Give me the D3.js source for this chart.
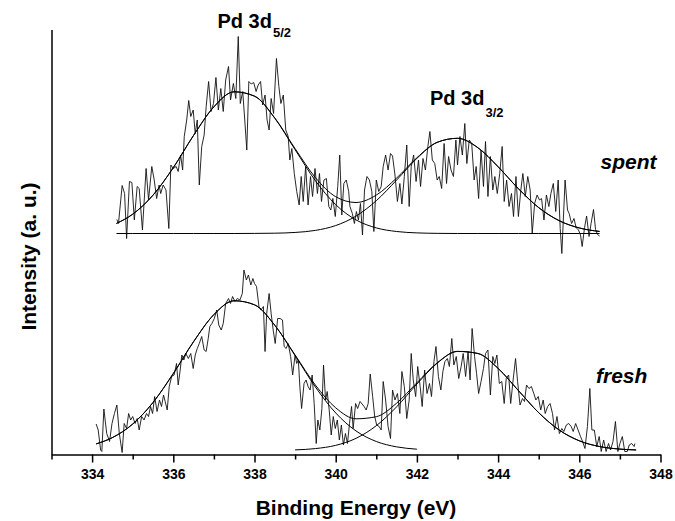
<!DOCTYPE html>
<html lang="en">
<head>
<meta charset="UTF-8">
<title>Pd 3d XPS spectra</title>
<script src="https://d3js.org/d3.v7.min.js"></script>
<style>
  body { margin: 0; background: #fff; }
  svg { display: block; font-family: Arial, "Liberation Sans", sans-serif; }
  .axis path, .axis line { stroke: #000; stroke-width: 1.5; }
  .axis text { font-size: 14px; font-weight: bold; fill: #000; }
  .trace { fill: none; stroke: #111; stroke-width: 0.9; }
  .fit { fill: none; stroke: #000; stroke-width: 1; }
  .lbl { font-weight: bold; fill: #000; }
</style>
</head>
<body>
<div id="chart"></div>
<script>
// axis ticks (eV)
const majorTicks = [334, 336, 338, 340, 342, 344, 346, 348];
const minorTicks = [333, 335, 337, 339, 341, 343, 345, 347];

// spent catalyst, raw spectrum [binding energy, intensity a.u.]
const spentSpectrum = [
  [334.61,470],[334.65,462],[334.74,538],[334.80,522],[334.85,432],[334.92,546],[334.98,544],[335.04,469],[335.11,536],[335.16,532],
  [335.24,449],[335.33,572],[335.39,509],[335.47,576],[335.53,549],[335.59,512],[335.65,539],[335.69,522],[335.75,539],[335.82,529],
  [335.89,452],[335.94,579],[336.00,572],[336.07,576],[336.12,566],[336.18,599],[336.23,569],[336.27,636],[336.33,669],[336.38,708],
  [336.43,676],[336.49,689],[336.54,642],[336.59,669],[336.64,539],[336.70,616],[336.76,639],[336.81,696],[336.87,746],[336.93,686],
  [336.99,702],[337.05,754],[337.11,689],[337.17,732],[337.23,686],[337.29,749],[337.36,776],[337.41,709],[337.48,742],[337.54,712],
  [337.60,836],[337.65,702],[337.71,726],[337.76,669],[337.81,609],[337.86,746],[337.92,741],[337.98,744],[338.04,726],[338.09,739],
  [338.15,746],[338.20,699],[338.26,719],[338.31,669],[338.36,649],[338.41,712],[338.47,682],[338.54,792],[338.60,736],[338.65,702],
  [338.71,719],[338.77,649],[338.83,636],[338.87,589],[338.92,612],[338.98,562],[339.04,526],[339.10,499],[339.15,556],[339.20,506],
  [339.26,576],[339.32,499],[339.38,556],[339.43,516],[339.49,572],[339.55,522],[339.60,562],[339.65,506],[339.71,549],[339.77,552],
  [339.83,496],[339.88,489],[339.93,512],[339.99,476],[340.05,536],[340.10,599],[340.15,479],[340.20,542],[340.26,549],[340.32,526],
  [340.35,496],
  [340.41,482],[340.46,462],[340.51,486],[340.56,469],[340.61,502],[340.66,439],[340.71,529],[340.77,556],[340.83,549],[340.89,526],
  [340.94,446],[341.00,549],[341.06,526],[341.12,536],[341.17,576],[341.23,599],[341.29,569],[341.35,602],[341.40,597],[341.46,559],
  [341.52,506],[341.58,542],[341.63,501],[341.69,556],[341.75,619],[341.81,496],[341.86,576],[341.92,599],[341.98,546],[342.04,589],
  [342.09,536],[342.15,592],[342.21,569],[342.27,616],[342.32,646],[342.38,589],[342.44,582],[342.50,549],[342.55,556],[342.61,532],
  [342.67,622],[342.73,542],[342.78,596],[342.84,569],[342.90,556],[342.96,629],[343.00,579],[343.06,636],[343.12,599],[343.18,662],
  [343.23,582],[343.29,629],[343.35,622],[343.41,549],[343.46,576],[343.52,512],[343.58,609],[343.64,536],[343.69,626],[343.75,516],
  [343.81,596],[343.87,529],[343.92,556],[343.98,522],[344.04,562],[344.10,616],[344.15,506],[344.21,549],[344.27,496],[344.33,522],
  [344.38,476],[344.44,556],[344.50,476],[344.56,529],[344.61,562],[344.67,516],[344.73,556],[344.79,529],[344.84,442],[344.90,502],
  [344.96,519],[345.02,509],[345.07,512],[345.13,469],[345.19,519],[345.25,496],[345.30,522],[345.36,542],[345.42,486],[345.48,549],
  [345.53,452],
  [345.57,402],[345.65,549],[345.71,489],[345.75,482],[345.81,462],[345.87,472],[345.92,454],[345.98,449],[346.03,439],[346.07,416],
  [346.13,454],[346.18,477],[346.24,436],[346.29,462],[346.35,490],[346.40,450],[346.45,440],[346.50,437]
];

// fresh catalyst, raw spectrum
const freshSpectrum = [
  [334.10,61],[334.15,49],[334.21,9],[334.24,6],[334.29,91],[334.36,42],[334.43,26],[334.49,62],[334.55,82],[334.61,99],
  [334.67,42],[334.74,4],[334.79,62],[334.85,52],[334.90,82],[334.95,69],[335.00,76],[335.06,62],[335.11,72],[335.16,49],
  [335.22,76],[335.28,69],[335.34,82],[335.39,76],[335.44,96],[335.49,82],[335.54,116],[335.60,86],[335.66,109],[335.71,96],
  [335.76,119],[335.80,106],[335.85,89],[335.90,136],[335.96,156],[336.02,159],[336.08,182],[336.12,139],[336.17,169],[336.21,199],
  [336.26,189],[336.31,202],[336.37,192],[336.43,202],[336.49,172],[336.54,199],[336.59,212],[336.64,222],[336.70,236],[336.76,209],
  [336.81,206],[336.86,232],[336.90,256],[336.95,262],[337.01,272],[337.07,289],[337.12,259],[337.18,249],[337.23,262],[337.29,302],
  [337.36,312],[337.41,302],[337.46,316],[337.52,306],[337.58,312],[337.64,309],[337.70,322],[337.74,369],[337.80,349],[337.85,359],
  [337.91,339],[337.96,352],[338.00,342],[338.05,336],[338.11,296],[338.16,289],[338.22,296],[338.26,206],[338.30,282],[338.36,322],
  [338.41,282],[338.46,249],[338.51,222],[338.57,272],[338.63,272],[338.69,269],[338.73,216],[338.78,212],[338.83,222],[338.89,196],
  [338.94,159],[339.00,199],[339.04,182],[339.08,189],[339.12,132],[339.16,92],[339.22,142],[339.27,149],[339.32,136],[339.37,129],
  [339.42,159],[339.47,102],[339.52,22],[339.56,69],[339.61,49],[339.66,92],[339.70,179],[339.75,109],[339.79,126],[339.84,89],
  [339.89,39],[339.94,76],[339.99,52],[340.04,69],[340.09,29],[340.14,59],[340.19,19],[340.24,42],[340.29,22],[340.34,62],
  [340.39,96],[340.43,52],[340.49,102],[340.54,92],[340.60,106],
  [340.70,96],[340.75,89],[340.80,102],[340.85,161],[340.91,116],[340.96,76],[341.01,59],[341.07,56],[341.12,49],[341.17,146],
  [341.23,109],[341.29,56],[341.35,32],[341.40,129],[341.46,109],[341.52,122],[341.58,82],[341.63,166],[341.69,136],[341.75,72],
  [341.81,109],[341.86,202],[341.91,149],[341.97,116],[342.02,176],[342.08,136],[342.13,96],[342.19,169],[342.25,122],[342.31,142],
  [342.36,116],[342.42,186],[342.47,216],[342.53,156],[342.59,129],[342.64,166],[342.69,186],[342.75,192],[342.80,176],[342.86,232],
  [342.91,179],[342.97,196],[343.03,152],[343.09,176],[343.14,202],[343.20,156],[343.26,206],[343.31,149],[343.36,252],[343.42,196],
  [343.47,162],[343.52,122],[343.58,146],[343.64,172],[343.69,202],[343.75,209],[343.81,119],[343.87,196],[343.92,182],[343.97,199],
  [344.03,142],[344.09,146],[344.15,102],[344.20,152],[344.26,159],[344.31,102],[344.37,149],[344.43,192],[344.48,146],[344.54,99],
  [344.60,112],[344.65,106],[344.70,139],[344.76,132],[344.82,136],[344.88,122],[344.93,109],[344.99,116],[345.05,89],[345.11,109],
  [345.16,82],[345.22,96],[345.28,102],[345.34,82],[345.39,49],[345.45,76],[345.51,42],[345.57,52],[345.62,46],[345.68,59],
  [345.74,62],[345.80,56],[345.85,46],[345.91,62],[345.97,49],[346.03,36],[346.08,26],[346.14,12],[346.20,56],[346.26,132],
  [346.31,49],[346.37,49],[346.43,16],[346.49,36],[346.54,6],[346.60,29],[346.66,6],[346.72,22],[346.77,9],[346.83,26],
  [346.89,66],[346.95,6],[347.00,22],[347.06,36],[347.12,6],[347.18,6],[347.23,19],[347.29,22],[347.35,16],[347.37,22]
];

// fitted components
const spentFitEnergy = [334.6, 335, 335.5, 336, 336.5, 337, 337.5, 338, 338.5, 339, 339.5, 340, 340.5,
  341, 341.5, 342, 342.5, 343, 343.5, 344, 344.5, 345, 345.5, 346, 346.5];
const spentPeak1 = [462.1, 480.6, 518.6, 573.7, 638.3, 695.4, 725.4, 716.6, 672.5, 609.6, 547.6, 499.7, 469.2,
  453.2, 446.0, 443.2, 442.3, 442, 442, 442, 442, 442, 442, 442, 442];
const spentPeak2 = [442, 442, 442, 442, 442, 442, 442, 442.2, 442.6, 444.1, 448.2, 457.9, 476.8,
  507.6, 548.9, 592.3, 624.2, 632.4, 613.7, 575.5, 531.6, 493.8, 467.8, 453.1, 446.1];
const spentEnvelope = [462.1, 480.6, 518.6, 573.7, 638.3, 695.4, 725.4, 716.8, 673.1, 611.7, 553.8, 515.6, 504.0,
  518.8, 552.9, 593.5, 624.5, 632.4, 613.7, 575.5, 531.6, 493.8, 467.8, 453.1, 446.1];

const freshFitEnergy = [334.1, 334.5, 335, 335.5, 336, 336.5, 337, 337.5, 338, 338.5, 339, 339.5, 340, 340.5,
  341, 341.5, 342, 342.5, 343, 343.5, 344, 344.5, 345, 345.5, 346, 346.5, 347, 347.4];
const freshPeak1 = [21.2, 33.8, 60.9, 104.0, 161.9, 225.7, 279.8, 307.5, 299.4, 258.3, 197.8, 135.0, 83.1, 47.1,
  26.0, 15.3, 10.6, null, null, null, null, null, null, null, null, null, null, null];
const freshPeak2 = [null, null, null, null, null, null, null, null, null, null, 9.2, 11.8, 18.3, 32.3,
  57.6, 95.3, 140.9, 182.6, 206.1, 202.1, 172.2, 127.9, 83.6, 49.2, 27.4, 15.9, 10.8, 9.1];
const freshEnvelope = [21.2, 33.8, 60.9, 104.0, 161.9, 225.7, 279.8, 307.5, 299.4, 258.6, 199.0, 138.8, 93.4, 71.4,
  75.6, 102.6, 143.5, 183.4, 206.3, 202.1, 172.2, 127.9, 83.6, 49.2, 27.4, 15.9, 10.8, 9.1];

const W = 675, H = 521;
const svg = d3.select('#chart').append('svg')
  .attr('width', W)
  .attr('height', H);

const x = d3.scaleLinear().domain([333, 348]).range([51.5, 660.5]);
const y = d3.scaleLinear().domain([0, 850]).range([454.5, 29.5]);

// axes
svg.append('g')
  .attr('class', 'axis')
  .attr('transform', `translate(0,${y(0)})`)
  .call(d3.axisBottom(x).tickValues(minorTicks).tickSize(5).tickSizeOuter(0).tickFormat(''))
  .call(g => g.select('.domain').remove());

svg.append('g')
  .attr('class', 'axis')
  .attr('transform', `translate(0,${y(0)})`)
  .call(d3.axisBottom(x).tickValues(majorTicks).tickSize(8).tickSizeOuter(0).tickPadding(7).tickFormat(d3.format('d')));

svg.append('g')
  .attr('class', 'axis')
  .attr('transform', `translate(${x(333)},0)`)
  .call(d3.axisLeft(y).tickValues([]).tickSizeOuter(0));

// raw spectra
const rawLine = d3.line()
  .x(d => x(d[0]))
  .y(d => y(d[1]));

svg.append('path').attr('class', 'trace').attr('d', rawLine(spentSpectrum));
svg.append('path').attr('class', 'trace').attr('d', rawLine(freshSpectrum));

// fitted curves
const fitLine = d3.line()
  .defined(d => d[1] != null)
  .x(d => x(d[0]))
  .y(d => y(d[1]))
  .curve(d3.curveMonotoneX);

function drawFit(energy, values) {
  svg.append('path')
    .attr('class', 'fit')
    .attr('d', fitLine(energy.map((e, i) => [e, values[i]])));
}

[spentPeak1, spentPeak2, spentEnvelope].forEach(v => drawFit(spentFitEnergy, v));
[freshPeak1, freshPeak2, freshEnvelope].forEach(v => drawFit(freshFitEnergy, v));

// peak labels
const p1 = svg.append('text').attr('class', 'lbl').attr('x', 217.5).attr('y', 28).style('font-size', '20px');
p1.append('tspan').text('Pd 3d');
p1.append('tspan').attr('dy', 9).attr('dx', 1).style('font-size', '13px').text('5/2');

const p2 = svg.append('text').attr('class', 'lbl').attr('x', 430).attr('y', 105).style('font-size', '20px');
p2.append('tspan').text('Pd 3d');
p2.append('tspan').attr('dy', 12).attr('dx', 1).style('font-size', '13px').text('3/2');

svg.append('text').attr('class', 'lbl')
  .attr('x', 600.5).attr('y', 169)
  .style('font-size', '21px').style('font-style', 'italic')
  .text('spent');

svg.append('text').attr('class', 'lbl')
  .attr('x', 596).attr('y', 383)
  .style('font-size', '21px').style('font-style', 'italic')
  .text('fresh');

// axis titles
svg.append('text').attr('class', 'lbl')
  .attr('x', 356).attr('y', 515)
  .attr('text-anchor', 'middle')
  .style('font-size', '21px')
  .text('Binding Energy (eV)');

svg.append('text').attr('class', 'lbl')
  .attr('transform', 'translate(36,256.5) rotate(-90)')
  .attr('text-anchor', 'middle')
  .style('font-size', '21px')
  .text('Intensity (a. u.)');
</script>
</body>
</html>
